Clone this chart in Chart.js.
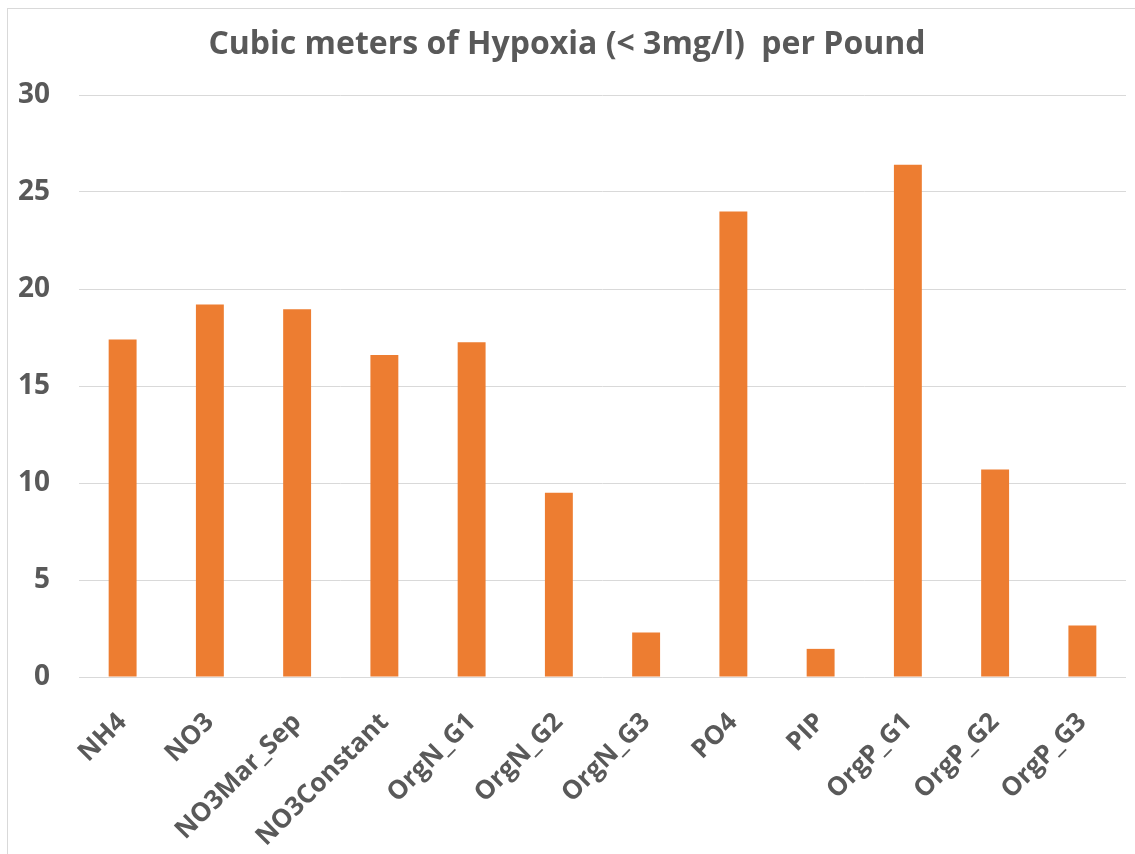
<!DOCTYPE html>
<html>
<head>
<meta charset="utf-8">
<script src="https://cdn.jsdelivr.net/npm/chart.js@4.4.1/dist/chart.umd.min.js"></script>
<style>
  html, body { margin: 0; padding: 0; background: #fff; overflow: hidden; }
  #frame {
    position: absolute; left: 7px; top: 8px;
    width: 1200px; height: 900px;
    border: 1px solid #d9d9d9;
  }
  #myChart { display: block; }
</style>
</head>
<body>
<div id="frame">
  <canvas id="myChart" width="1127" height="845"></canvas>
</div>
<script>
const categories = [
    'NH4', 'NO3', 'NO3Mar_Sep', 'NO3Constant', 'OrgN_G1', 'OrgN_G2',
    'OrgN_G3', 'PO4', 'PIP', 'OrgP_G1', 'OrgP_G2', 'OrgP_G3'
];
const hypoxiaPerPound = [17.4, 19.2, 18.95, 16.6, 17.25, 9.5, 2.3, 24.0, 1.45, 26.4, 10.7, 2.65];
const yTicks = [0, 5, 10, 15, 20, 25, 30];

const textGrey = '#595959';
const fontFamily = '"Open Sans", sans-serif';

const ctx = document.getElementById('myChart').getContext('2d');

const graph = new Chart(ctx, {
    type: 'bar',
    data: {
        labels: categories,
        datasets: [{
            label: 'Cubic meters per Pound',
            data: hypoxiaPerPound,
            backgroundColor: '#ED7D31',
            borderWidth: 0,
            barPercentage: 0.32,
            categoryPercentage: 1
        }]
    },
    options: {
        responsive: false,
        animation: false,
        layout: { padding: { top: 17, right: 9, left: 0, bottom: 0 } },
        plugins: {
            legend: { display: false },
            tooltip: { enabled: false },
            title: {
                display: true,
                text: 'Cubic meters of Hypoxia (< 3mg/l)  per Pound',
                color: textGrey,
                font: { family: fontFamily, size: 32, weight: 'bold' },
                padding: { top: 0, bottom: 30.6 }
            }
        },
        scales: {
            x: {
                grid: { display: false, drawTicks: false },
                border: { display: false },
                ticks: {
                    autoSkip: false,
                    maxRotation: 45,
                    minRotation: 45,
                    padding: 30,
                    color: textGrey,
                    font: { family: fontFamily, size: 26, weight: 'bold' }
                },
                afterFit(scale) { scale.height = 177; }
            },
            y: {
                min: 0,
                max: 30,
                afterBuildTicks(scale) { scale.ticks = yTicks.map(v => ({ value: v })); },
                grid: { color: '#d9d9d9', lineWidth: 1, drawTicks: false },
                border: { display: false },
                ticks: {
                    padding: 29,
                    color: textGrey,
                    font: { family: fontFamily, size: 28, weight: 'bold' }
                },
                afterFit(scale) { scale.width = 71; }
            }
        }
    }
});
</script>
</body>
</html>
